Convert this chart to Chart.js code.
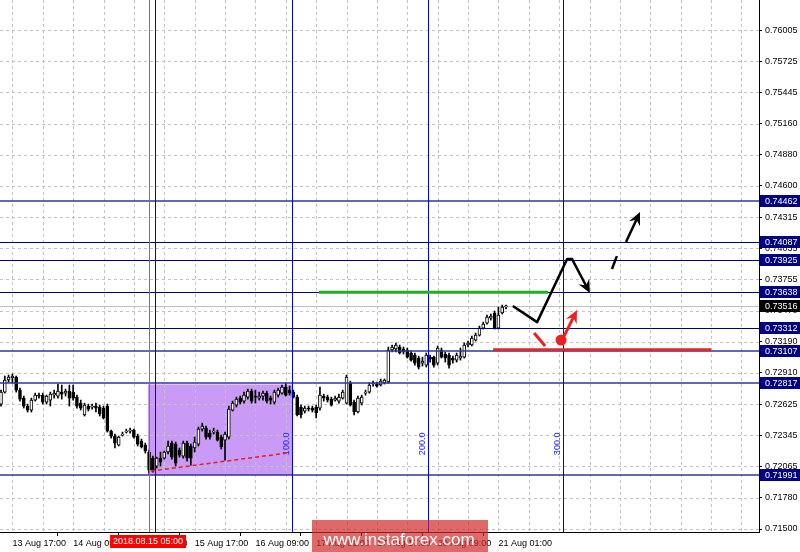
<!DOCTYPE html>
<html>
<head>
<meta charset="utf-8">
<script src="https://cdn.jsdelivr.net/npm/chart.js@4.4.0/dist/chart.umd.min.js"></script>
<style>
  body { margin: 0; background: #fff; }
</style>
</head>
<body>
<canvas id="myChart" width="800" height="552"></canvas>
<script>
// H1 candles (index 0 = leftmost bar)
let openP = [
  0.72628,0.72736,0.72845,0.72863,0.72872,0.72754,0.72682,0.72610,0.72574,0.72664,
  0.72709,0.72709,0.72646,0.72664,0.72709,0.72700,0.72736,0.72727,0.72745,0.72736,
  0.72691,0.72637,0.72529,0.72610,0.72601,0.72610,0.72601,0.72592,0.72610,0.72384,
  0.72339,0.72258,0.72348,0.72375,0.72384,0.72393,0.72339,0.72294,0.72258,0.72195,
  0.72140,0.72068,0.72140,0.72140,0.72195,0.72276,0.72267,0.72213,0.72158,0.72276,
  0.72249,0.72231,0.72267,0.72402,0.72411,0.72366,0.72375,0.72375,0.72330,0.72303,
  0.72330,0.72574,0.72619,0.72682,0.72655,0.72691,0.72745,0.72700,0.72682,0.72700,
  0.72727,0.72682,0.72646,0.72709,0.72727,0.72781,0.72754,0.72736,0.72691,0.72601,
  0.72565,0.72592,0.72592,0.72601,0.72592,0.72700,0.72691,0.72673,0.72664,0.72655,
  0.72682,0.72637,0.72818,0.72646,0.72556,0.72637,0.72727,0.72736,0.72809,0.72809,
  0.72800,0.72818,0.72827,0.73116,0.73125,0.73143,0.73125,0.73116,0.73089,0.73070,
  0.73043,0.72998,0.72980,0.73052,0.73052,0.72998,0.73116,0.73080,0.73070,0.73043,
  0.73025,0.73043,0.73052,0.73161,0.73161,0.73206,0.73251,0.73314,0.73359,0.73404,
  0.73450,0.73314,0.73450,0.73504
];
let highP = [
  0.72754,0.72881,0.72890,0.72899,0.72881,0.72772,0.72700,0.72628,0.72682,0.72727,
  0.72727,0.72727,0.72709,0.72736,0.72754,0.72809,0.72800,0.72763,0.72800,0.72800,
  0.72709,0.72664,0.72637,0.72628,0.72628,0.72637,0.72619,0.72610,0.72628,0.72393,
  0.72357,0.72339,0.72375,0.72402,0.72411,0.72402,0.72357,0.72312,0.72276,0.72213,
  0.72158,0.72149,0.72195,0.72204,0.72294,0.72294,0.72285,0.72231,0.72294,0.72294,
  0.72267,0.72330,0.72420,0.72456,0.72429,0.72393,0.72411,0.72393,0.72348,0.72375,
  0.72610,0.72655,0.72691,0.72700,0.72736,0.72763,0.72763,0.72754,0.72736,0.72745,
  0.72745,0.72700,0.72754,0.72772,0.72800,0.72818,0.72790,0.72754,0.72709,0.72619,
  0.72610,0.72610,0.72610,0.72619,0.72781,0.72718,0.72709,0.72691,0.72700,0.72718,
  0.72754,0.72890,0.72836,0.72664,0.72700,0.72709,0.72754,0.72818,0.72836,0.72827,
  0.72854,0.72854,0.73143,0.73161,0.73179,0.73161,0.73143,0.73134,0.73107,0.73089,
  0.73061,0.73052,0.73089,0.73070,0.73061,0.73152,0.73134,0.73098,0.73089,0.73061,
  0.73089,0.73134,0.73179,0.73197,0.73242,0.73269,0.73332,0.73368,0.73431,0.73441,
  0.73468,0.73504,0.73522,0.73522
];
let lowP = [
  0.72610,0.72727,0.72827,0.72818,0.72736,0.72655,0.72592,0.72556,0.72556,0.72655,
  0.72682,0.72628,0.72628,0.72610,0.72682,0.72682,0.72673,0.72700,0.72610,0.72664,
  0.72592,0.72574,0.72520,0.72565,0.72583,0.72556,0.72520,0.72493,0.72375,0.72321,
  0.72231,0.72249,0.72339,0.72366,0.72366,0.72321,0.72249,0.72231,0.72186,0.72005,
  0.72014,0.72050,0.72068,0.72131,0.72177,0.72131,0.72068,0.72149,0.72140,0.72113,
  0.72077,0.72195,0.72249,0.72384,0.72312,0.72312,0.72357,0.72294,0.72222,0.72122,
  0.72312,0.72565,0.72601,0.72628,0.72637,0.72673,0.72637,0.72637,0.72664,0.72664,
  0.72637,0.72628,0.72628,0.72691,0.72718,0.72700,0.72709,0.72682,0.72520,0.72502,
  0.72547,0.72565,0.72556,0.72502,0.72574,0.72655,0.72646,0.72610,0.72655,0.72637,
  0.72673,0.72628,0.72610,0.72529,0.72547,0.72619,0.72709,0.72727,0.72790,0.72781,
  0.72790,0.72809,0.72818,0.73098,0.73098,0.73080,0.73080,0.73043,0.73016,0.72980,
  0.72944,0.72971,0.72962,0.73007,0.72962,0.72980,0.73043,0.73007,0.72953,0.72998,
  0.73007,0.73025,0.73043,0.73143,0.73152,0.73197,0.73242,0.73305,0.73350,0.73386,
  0.73305,0.73305,0.73441,0.73486
];
let closeP = [
  0.72736,0.72845,0.72872,0.72881,0.72754,0.72673,0.72610,0.72574,0.72664,0.72709,
  0.72700,0.72646,0.72700,0.72718,0.72727,0.72745,0.72718,0.72745,0.72682,0.72682,
  0.72610,0.72592,0.72619,0.72583,0.72610,0.72592,0.72538,0.72502,0.72384,0.72339,
  0.72276,0.72330,0.72357,0.72384,0.72393,0.72330,0.72267,0.72240,0.72204,0.72032,
  0.72032,0.72140,0.72104,0.72195,0.72249,0.72149,0.72095,0.72167,0.72276,0.72140,
  0.72140,0.72285,0.72402,0.72429,0.72330,0.72330,0.72384,0.72303,0.72240,0.72357,
  0.72583,0.72637,0.72673,0.72646,0.72709,0.72745,0.72655,0.72691,0.72700,0.72727,
  0.72655,0.72664,0.72736,0.72754,0.72781,0.72709,0.72727,0.72691,0.72529,0.72529,
  0.72592,0.72583,0.72574,0.72547,0.72709,0.72682,0.72664,0.72619,0.72682,0.72691,
  0.72736,0.72872,0.72619,0.72556,0.72682,0.72691,0.72736,0.72800,0.72818,0.72790,
  0.72836,0.72845,0.73116,0.73143,0.73161,0.73089,0.73098,0.73052,0.73025,0.72998,
  0.72962,0.73016,0.73070,0.73034,0.72980,0.73134,0.73052,0.73043,0.72980,0.73025,
  0.73070,0.73061,0.73161,0.73179,0.73224,0.73251,0.73314,0.73350,0.73413,0.73422,
  0.73314,0.73431,0.73504,0.73516
];

// price scale labels on the right
let yTicks = [0.76005,0.75725,0.75445,0.75160,0.74880,0.74600,0.74315,0.74035,0.73755,
              0.73470,0.73190,0.72910,0.72625,0.72345,0.72065,0.71780,0.71500];
// time labels, one every 16 bars (grid every 8 bars)
let xTickLabels = ['13 Aug 17:00','14 Aug 09:00','15 Aug 01:00','15 Aug 17:00','16 Aug 09:00',
                   '17 Aug 01:00','17 Aug 17:00','20 Aug 09:00','21 Aug 01:00'];
let firstTick = 3, tickStep = 8;

// horizontal levels
let levelsMain = [0.74462, 0.73107, 0.72817, 0.71991];
let levelsThin = [0.74087, 0.73925, 0.73638, 0.73312];
let lastPrice = 0.73516;

// fibo time zones and marker
let fiboX = [40.6, 76.6, 112.5, 148.0];
let fiboText = ['', '100.0', '200.0', '300.0'];
let fiboTextPrice = 0.72167;
let markerX = 39;
let markerText = '2018.08.15 05:00';

// drawings
let boxX = [38.7, 76.9], boxY = [0.72805, 0.71985];
let trendLine = [[39.5, 0.72023], [75.3, 0.72186]];
let greenLine = [[83.7, 0.73638], [144.1, 0.73638]];
let redLine = [[129.6, 0.73118], [187.0, 0.73118]];
let blackPath = [[134.8, 0.73513], [141.2, 0.73368], [149.1, 0.73937], [150.4, 0.73937], [155.1, 0.73630]];
let blackDash = [[160.9, 0.73847], [162.2, 0.73964]];
let blackArrow = [[164.6, 0.74091], [168.3, 0.74362]];
let redDash = [[140.4, 0.73269], [143.3, 0.73152]];
let redDot = [147.5, 0.73206];
let redArrow = [[148.3, 0.73242], [151.7, 0.73477]];

let xMin = -0.263, xMax = 199.63;
let yMin = 0.71473, yMax = 0.76276;

Chart.defaults.font.family = 'Liberation Sans';

function tickLabel(v) {
  let k = Math.round((v - firstTick) / tickStep);
  if (k % 2 !== 0) return '';
  return xTickLabels[k / 2] || '';
}

function arrowHead(ctx, x1, y1, x2, y2, len, half) {
  let a = Math.atan2(y2 - y1, x2 - x1);
  let c = Math.cos(a), s = Math.sin(a);
  ctx.beginPath();
  ctx.moveTo(x2, y2);
  ctx.lineTo(x2 - len * c + half * s, y2 - len * s - half * c);
  ctx.lineTo(x2 - len * 0.65 * c, y2 - len * 0.65 * s);
  ctx.lineTo(x2 - len * c - half * s, y2 - len * s + half * c);
  ctx.closePath();
  ctx.fill();
}

let overlay = {
  id: 'overlay',
  beforeDatasetsDraw(chart) {
    let {ctx, chartArea: a, scales: {x, y}} = chart;
    ctx.save();
    // rectangle behind the candles
    let bx1 = x.getPixelForValue(boxX[0]), bx2 = x.getPixelForValue(boxX[1]);
    let by1 = y.getPixelForValue(boxY[0]), by2 = y.getPixelForValue(boxY[1]);
    ctx.fillStyle = '#c99bf6';
    ctx.fillRect(bx1, by1, bx2 - bx1, by2 - by1);

    // dashed grid
    ctx.strokeStyle = '#c2c2c2';
    ctx.lineWidth = 1;
    ctx.setLineDash([3, 3]);
    ctx.beginPath();
    yTicks.forEach(v => {
      let py = Math.round(y.getPixelForValue(v)) + 0.5;
      ctx.moveTo(a.left, py); ctx.lineTo(a.right, py);
    });
    x.ticks.forEach(t => {
      let px = Math.round(x.getPixelForValue(t.value)) + 0.5;
      ctx.moveTo(px, a.top); ctx.lineTo(px, a.bottom);
    });
    ctx.stroke();
    ctx.setLineDash([]);

    // last price line
    let lp = Math.round(y.getPixelForValue(lastPrice)) + 0.5;
    ctx.strokeStyle = '#c0c0c0';
    ctx.beginPath(); ctx.moveTo(a.left, lp); ctx.lineTo(a.right, lp); ctx.stroke();
    ctx.restore();
  },
  afterDatasetsDraw(chart) {
    let {ctx, chartArea: a, scales: {x, y}} = chart;
    let P = p => [x.getPixelForValue(p[0]), y.getPixelForValue(p[1])];
    ctx.save();

    // levels
    ctx.lineWidth = 1;
    ctx.strokeStyle = '#000070';
    levelsThin.forEach(v => {
      let py = Math.round(y.getPixelForValue(v)) + 0.5;
      ctx.beginPath(); ctx.moveTo(a.left, py); ctx.lineTo(a.right, py); ctx.stroke();
    });
    ctx.strokeStyle = '#3535a0';
    ctx.lineWidth = 1.5;
    levelsMain.forEach(v => {
      let py = Math.round(y.getPixelForValue(v));
      ctx.beginPath(); ctx.moveTo(a.left, py); ctx.lineTo(a.right, py); ctx.stroke();
    });

    // vertical lines
    ctx.lineWidth = 1;
    let mx = Math.round(x.getPixelForValue(markerX)) + 0.5;
    ctx.strokeStyle = '#e84848';
    ctx.beginPath(); ctx.moveTo(mx, a.top); ctx.lineTo(mx, a.bottom); ctx.stroke();
    ctx.strokeStyle = '#0000e6';
    fiboX.forEach(v => {
      let px = Math.round(x.getPixelForValue(v)) + 0.5;
      ctx.beginPath(); ctx.moveTo(px, a.top); ctx.lineTo(px, a.bottom); ctx.stroke();
    });
    ctx.fillStyle = '#2020ff';
    ctx.font = '9px "Liberation Sans"';
    ctx.textAlign = 'left';
    ctx.textBaseline = 'bottom';
    let ty = y.getPixelForValue(fiboTextPrice);
    fiboX.forEach((v, i) => {
      if (!fiboText[i]) return;
      ctx.save();
      ctx.translate(x.getPixelForValue(v) - 1, ty);
      ctx.rotate(-Math.PI / 2);
      ctx.fillText(fiboText[i], 0, 0);
      ctx.restore();
    });

    // red dashed trend line
    ctx.strokeStyle = '#e02020';
    ctx.lineWidth = 1.5;
    ctx.setLineDash([4, 3]);
    ctx.beginPath();
    ctx.moveTo(...P(trendLine[0])); ctx.lineTo(...P(trendLine[1]));
    ctx.stroke();
    ctx.setLineDash([]);

    // green and red zones
    ctx.lineWidth = 3;
    ctx.strokeStyle = '#20b020';
    ctx.beginPath(); ctx.moveTo(...P(greenLine[0])); ctx.lineTo(...P(greenLine[1])); ctx.stroke();
    ctx.strokeStyle = '#e02828';
    ctx.beginPath(); ctx.moveTo(...P(redLine[0])); ctx.lineTo(...P(redLine[1])); ctx.stroke();

    // black scenario path
    ctx.strokeStyle = '#000';
    ctx.fillStyle = '#000';
    ctx.lineWidth = 2.5;
    ctx.lineJoin = 'round';
    let pts = blackPath.map(P);
    let n = pts.length;
    let [ex, ey] = pts[n - 1], [sx, sy] = pts[n - 2];
    let ang = Math.atan2(ey - sy, ex - sx);
    ctx.beginPath();
    ctx.moveTo(pts[0][0], pts[0][1]);
    for (let i = 1; i < n - 1; i++) ctx.lineTo(pts[i][0], pts[i][1]);
    ctx.lineTo(ex - 8 * Math.cos(ang), ey - 8 * Math.sin(ang));
    ctx.stroke();
    arrowHead(ctx, sx, sy, ex, ey, 13, 6);

    let d = blackDash.map(P);
    ctx.beginPath(); ctx.moveTo(...d[0]); ctx.lineTo(...d[1]); ctx.stroke();
    let b = blackArrow.map(P);
    ang = Math.atan2(b[1][1] - b[0][1], b[1][0] - b[0][0]);
    ctx.beginPath(); ctx.moveTo(...b[0]);
    ctx.lineTo(b[1][0] - 8 * Math.cos(ang), b[1][1] - 8 * Math.sin(ang));
    ctx.stroke();
    arrowHead(ctx, b[0][0], b[0][1], b[1][0], b[1][1], 13, 6);

    // red scenario
    ctx.strokeStyle = '#ee2020';
    ctx.fillStyle = '#ee2020';
    ctx.lineWidth = 3;
    let r = redDash.map(P);
    ctx.beginPath(); ctx.moveTo(...r[0]); ctx.lineTo(...r[1]); ctx.stroke();
    let dot = P(redDot);
    ctx.beginPath(); ctx.arc(dot[0], dot[1], 5.5, 0, Math.PI * 2); ctx.fill();
    let ra = redArrow.map(P);
    ang = Math.atan2(ra[1][1] - ra[0][1], ra[1][0] - ra[0][0]);
    ctx.beginPath(); ctx.moveTo(...ra[0]);
    ctx.lineTo(ra[1][0] - 8 * Math.cos(ang), ra[1][1] - 8 * Math.sin(ang));
    ctx.stroke();
    arrowHead(ctx, ra[0][0], ra[0][1], ra[1][0], ra[1][1], 13, 6);

    ctx.restore();
  },
  afterDraw(chart) {
    let {ctx, chartArea: a, scales: {x, y}} = chart;
    ctx.save();
    ctx.font = '9px "Liberation Sans"';
    ctx.textBaseline = 'middle';
    ctx.textAlign = 'left';
    // price boxes on the axis
    let tag = (v, bg) => {
      let py = Math.round(y.getPixelForValue(v));
      ctx.fillStyle = bg;
      ctx.fillRect(a.right + 1, py - 6, 800 - a.right - 1, 12);
      ctx.fillStyle = '#fff';
      ctx.fillText(v.toFixed(5), a.right + 6, py + 0.5);
    };
    levelsMain.concat(levelsThin).forEach(v => tag(v, '#000080'));
    tag(lastPrice, '#000');

    // time marker label
    let mx = x.getPixelForValue(markerX);
    ctx.fillStyle = '#ff0000';
    ctx.fillRect(mx - 39, a.bottom + 3, 76, 13);
    ctx.fillStyle = '#fff';
    ctx.textAlign = 'center';
    ctx.fillText(markerText, mx - 1, a.bottom + 10);

    // watermark
    ctx.fillStyle = 'rgba(210, 40, 40, 0.7)';
    ctx.fillRect(312, 520, 176, 32);
    ctx.fillStyle = '#fff';
    ctx.font = '17px "Liberation Sans"';
    ctx.textBaseline = 'alphabetic';
    ctx.fillText('www.instaforex.com', 399, 545);
    ctx.restore();
  }
};

let bodies = openP.map((o, i) => ({x: i, y: [o, closeP[i]]}));
let wicks = lowP.map((l, i) => ({x: i, y: [l, highP[i]]}));
let bodyColors = openP.map((o, i) => closeP[i] >= o ? '#ffffff' : '#000000');

let ctx = document.getElementById('myChart').getContext('2d');
let myChart = new Chart(ctx, {
  type: 'bar',
  data: {
    datasets: [{
      label: 'body',
      data: bodies,
      backgroundColor: bodyColors,
      borderColor: '#000',
      borderWidth: 1,
      borderSkipped: false,
      barThickness: 3,
      grouped: false,
      order: 0
    }, {
      label: 'wick',
      data: wicks,
      backgroundColor: '#000',
      borderWidth: 0,
      barThickness: 1,
      grouped: false,
      order: 1
    }]
  },
  options: {
    responsive: false,
    animation: false,
    layout: { padding: 0 },
    plugins: { legend: { display: false }, tooltip: { enabled: false } },
    scales: {
      x: {
        type: 'linear',
        min: xMin,
        max: xMax,
        offset: false,
        afterBuildTicks: s => {
          let t = [];
          for (let v = firstTick; v <= xMax; v += tickStep) t.push({value: v});
          s.ticks = t;
        },
        afterFit: s => { s.height = 20; s.paddingLeft = 0; s.paddingRight = 0; },
        grid: {
          drawOnChartArea: false,
          tickLength: 4,
          tickColor: c => (c.tick && tickLabel(c.tick.value)) ? '#000' : 'rgba(0,0,0,0)'
        },
        border: { display: true, color: '#000' },
        ticks: {
          autoSkip: false,
          maxRotation: 0,
          align: 'start',
          padding: 2,
          color: '#000',
          font: { size: 9 },
          callback: v => tickLabel(v)
        }
      },
      y: {
        position: 'right',
        min: yMin,
        max: yMax,
        afterBuildTicks: s => { s.ticks = yTicks.map(v => ({value: v})); },
        afterFit: s => { s.width = 41; s.paddingTop = 0; s.paddingBottom = 0; },
        grid: { drawOnChartArea: false, tickLength: 3, tickColor: '#000' },
        border: { display: true, color: '#000' },
        ticks: {
          padding: 3,
          color: '#000',
          font: { size: 9 },
          callback: v => v.toFixed(5)
        }
      }
    }
  },
  plugins: [overlay]
});
</script>
</body>
</html>
